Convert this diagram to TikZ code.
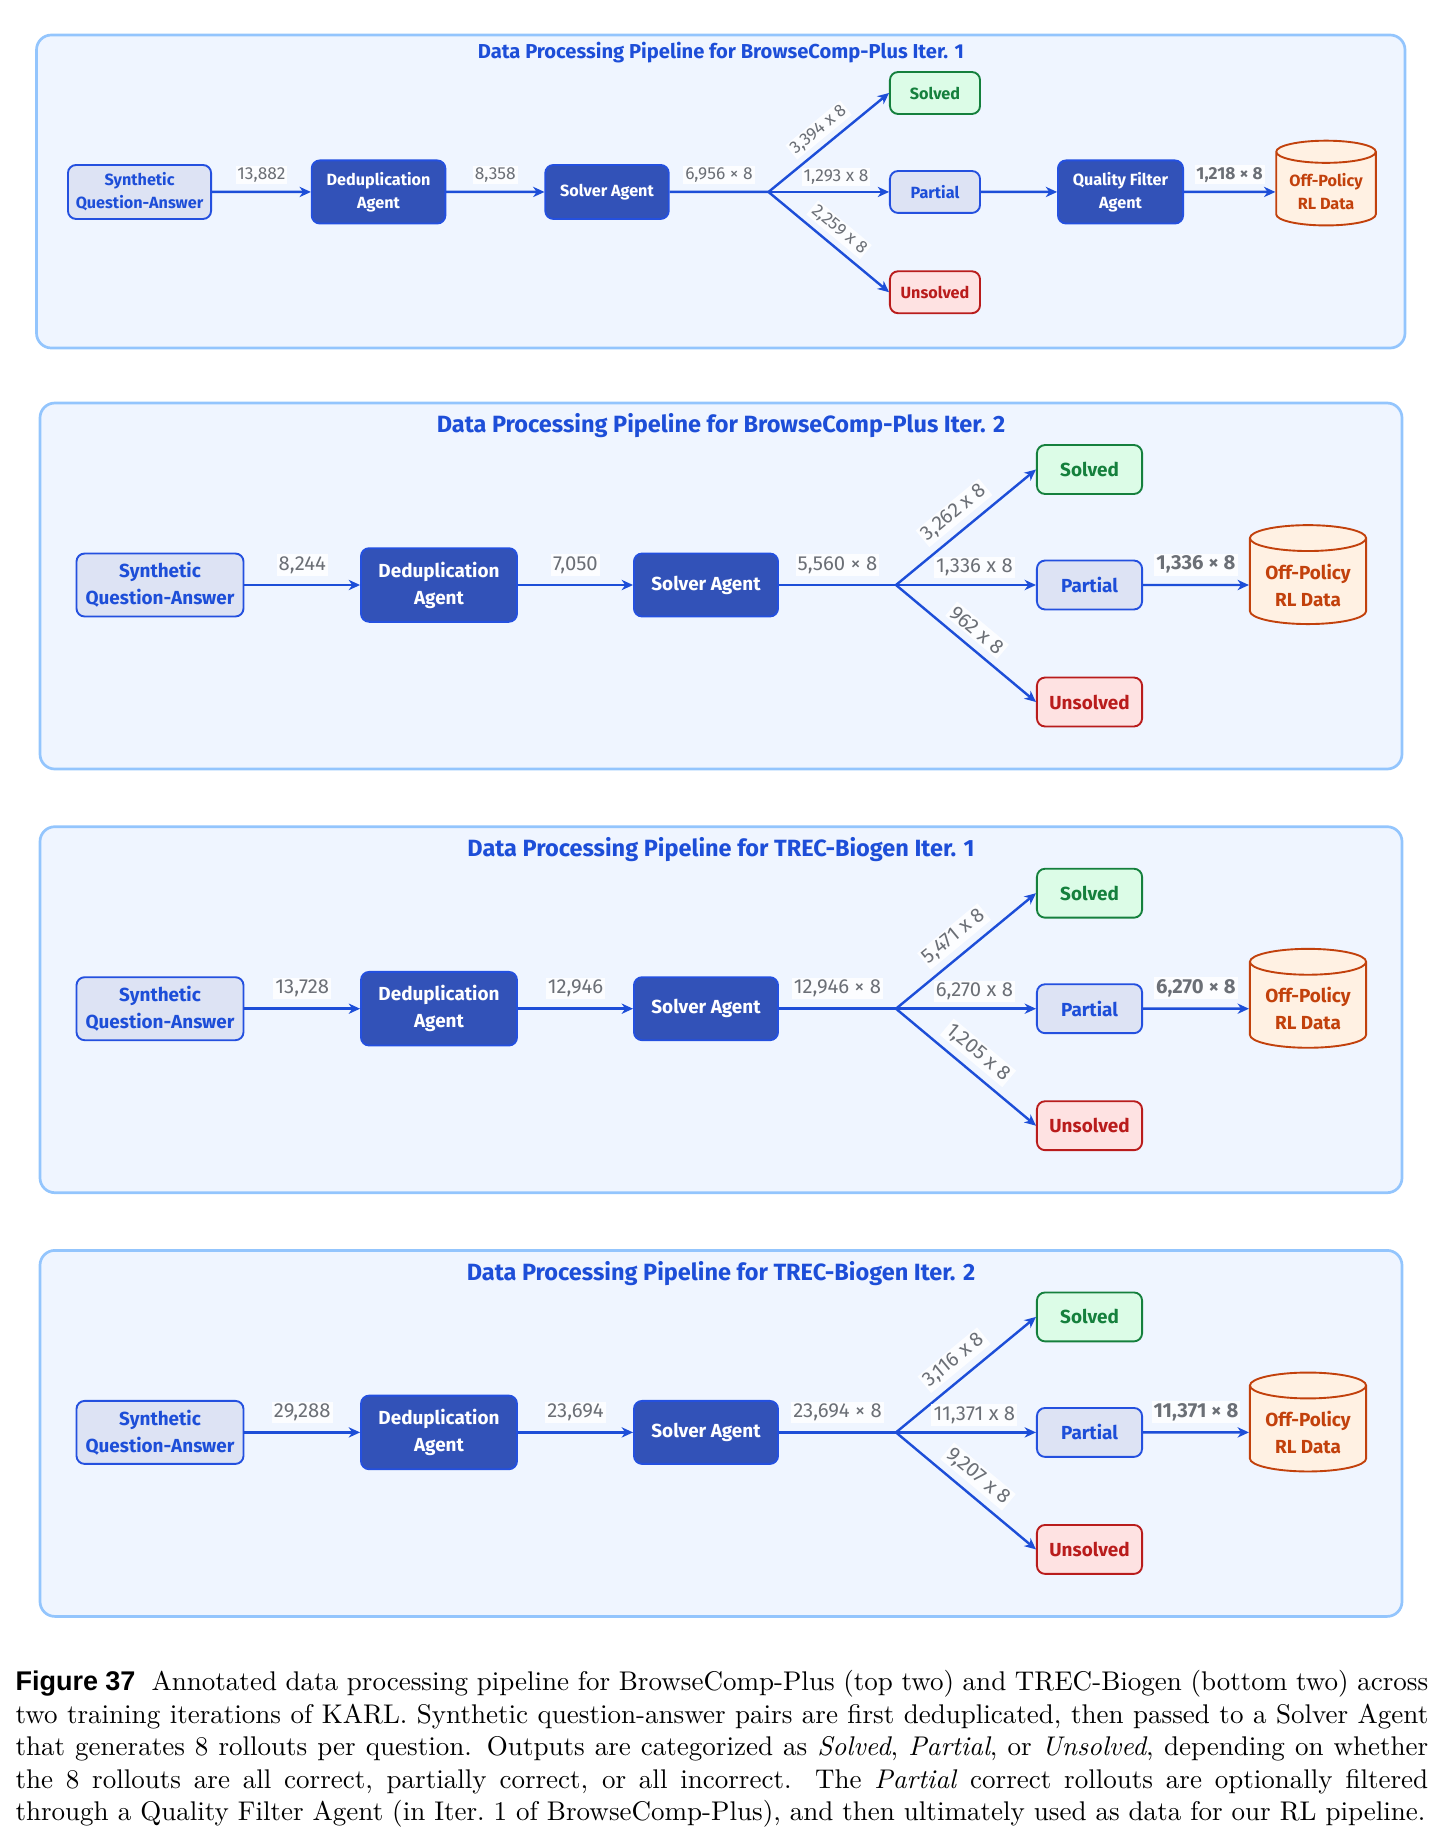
\documentclass[tikz,border=0pt]{standalone}
\usepackage{fontspec}
\newfontfamily\diagfont{Fira Sans}
\newfontfamily\figfont{Liberation Sans}
\usetikzlibrary{shapes.geometric,arrows.meta,positioning}

\definecolor{panelfill}{HTML}{EFF5FF}
\definecolor{panelline}{HTML}{93C5FD}
\definecolor{titleblue}{HTML}{1D4ED8}
\definecolor{flowblue}{HTML}{1D4ED8}
\definecolor{agentfill}{HTML}{3252B8}
\definecolor{edgeblue}{HTML}{2450DF}
\definecolor{paleblue}{HTML}{DDE3F4}
\definecolor{solvedfill}{HTML}{DCFCE7}
\definecolor{solvedline}{HTML}{15803D}
\definecolor{unsolvedfill}{HTML}{FEE2E2}
\definecolor{unsolvedline}{HTML}{B91C1C}
\definecolor{storefill}{HTML}{FFF1E3}
\definecolor{storeline}{HTML}{C2410C}
\definecolor{numgray}{HTML}{6B6F76}

\begin{document}
\begin{tikzpicture}[
    x=0.37pt, y=-0.37pt,
    boxfont/.style={font=\diagfont\bfseries\fontsize{7}{10}\selectfont},
    panel/.style={draw=panelline, fill=panelfill, line width=1pt, rounded corners=5.5pt},
    title/.style={text=titleblue, font=\diagfont\bfseries\fontsize{8.7}{10}\selectfont},
    input/.style={boxfont, draw=edgeblue, fill=paleblue, text=titleblue, rounded corners=3pt, line width=0.7pt, minimum width=61.8pt, minimum height=23.3pt, inner ysep=2.5pt, align=center},
    agent/.style={boxfont, draw=edgeblue, fill=agentfill, text=white, rounded corners=3pt, line width=0.7pt, minimum width=53.3pt, minimum height=23.3pt, inner ysep=5pt, align=center},
    outcome/.style={boxfont, rounded corners=3pt, line width=0.7pt, minimum width=38.9pt, minimum height=18.1pt},
    solvedbox/.style={outcome, draw=solvedline, fill=solvedfill, text=solvedline},
    partialbox/.style={outcome, draw=edgeblue, fill=paleblue, text=titleblue},
    unsolvedbox/.style={outcome, draw=unsolvedline, fill=unsolvedfill, text=unsolvedline},
    store/.style={boxfont, cylinder, shape border rotate=90, aspect=0.25, draw=storeline, fill=storefill, text=storeline, line width=0.7pt, minimum width=43pt, minimum height=36.6pt, align=center},
    num/.style={font=\diagfont\fontsize{7.5}{8}\selectfont, text=numgray, fill=white, fill opacity=0.85, text opacity=1, inner sep=0.8pt},
    numbold/.style={num, font=\diagfont\bfseries\fontsize{7.5}{8}\selectfont},
    flow/.style={draw=flowblue, line width=0.9pt, -{Stealth[length=4.2pt, width=3.8pt, inset=1.3pt]}}
]
\useasboundingbox (0,0) rectangle (1443,1846);

% BrowseComp-Plus, iteration 1 (with the quality filter)
\draw[panel] (36.5,35) rectangle (1405,348);
\begin{scope}[scale=0.857, transform shape]
\node[title] (ttl1) at (841.3,61.8) {Data Processing Pipeline for BrowseComp-Plus Iter. 1};
\node[input] (qa1) at (162.8,224) {Synthetic\\Question-Answer};
\node[agent, minimum width=57.7pt] (dedup1) at (441.7,224) {Deduplication\\Agent};
\node[agent] (solver1) at (708.3,224) {Solver Agent};
\coordinate (fork1) at (896.8,224);
\node[solvedbox] (solved1) at (1091,108.5) {Solved};
\node[partialbox] (partial1) at (1091,224) {Partial};
\node[unsolvedbox] (unsolved1) at (1091,341) {Unsolved};
\node[agent, minimum width=54pt] (filter1) at (1307.5,224) {Quality Filter\\Agent};
\node[store] (rl1) at (1547.3,224) {Off-Policy\\RL Data};

\draw[flow] (qa1) -- node[num, above=3pt] {13,882} (dedup1);
\draw[flow] (dedup1) -- node[num, above=3pt] {8,358} (solver1);
\draw[draw=flowblue, line width=0.9pt] (solver1) -- node[num, above=3pt] {6,956 × 8} (fork1);
\draw[flow] (fork1) -- node[num, sloped, above=2.5pt] {3,394 x 8} (solved1.west);
\draw[flow] (fork1) -- node[num, pos=0.56, above=2pt] {1,293 x 8} (partial1.west);
\draw[flow] (fork1) -- node[num, sloped, above=2.5pt] {2,259 x 8} (unsolved1.west);
\draw[flow] (partial1) -- (filter1);
\draw[flow] (filter1) -- node[numbold, above=3pt] {1,218 × 8} (rl1);
\end{scope}

% the other three runs share one layout
\foreach \pid/\oy/\ttl/\nQA/\nDD/\nSV/\nOK/\nPA/\nUN in {
    2/0/{BrowseComp-Plus Iter. 2}/{8,244}/{7,050}/{5,560}/{3,262}/{1,336}/{962},
    3/423.7/{TREC-Biogen Iter. 1}/{13,728}/{12,946}/{12,946}/{5,471}/{6,270}/{1,205},
    4/847.4/{TREC-Biogen Iter. 2}/{29,288}/{23,694}/{23,694}/{3,116}/{11,371}/{9,207}}
{
  \draw[panel] (40,403+\oy) rectangle (1402,769+\oy);
  \node[title] (ttl\pid) at (721,426+\oy) {Data Processing Pipeline for \ttl};
  \node[input] (qa\pid) at (160,585+\oy) {Synthetic\\Question-Answer};
  \node[agent, minimum width=57.7pt] (dedup\pid) at (439,585+\oy) {Deduplication\\Agent};
  \node[agent] (solver\pid) at (706,585+\oy) {Solver Agent};
  \coordinate (fork\pid) at (896,585+\oy);
  \node[solvedbox] (solved\pid) at (1089.5,469.5+\oy) {Solved};
  \node[partialbox] (partial\pid) at (1089.5,585+\oy) {Partial};
  \node[unsolvedbox] (unsolved\pid) at (1089.5,702+\oy) {Unsolved};
  \node[store] (rl\pid) at (1308,585+\oy) {Off-Policy\\RL Data};

  \draw[flow] (qa\pid) -- node[num, above=3pt] {\nQA} (dedup\pid);
  \draw[flow] (dedup\pid) -- node[num, above=3pt] {\nDD} (solver\pid);
  \draw[draw=flowblue, line width=0.9pt] (solver\pid) -- node[num, above=3pt] {\nSV\ × 8} (fork\pid);
  \draw[flow] (fork\pid) -- node[num, sloped, above=2.5pt] {\nOK\ x 8} (solved\pid.west);
  \draw[flow] (fork\pid) -- node[num, pos=0.56, above=2pt] {\nPA\ x 8} (partial\pid.west);
  \draw[flow] (fork\pid) -- node[num, sloped, above=2.5pt] {\nUN\ x 8} (unsolved\pid.west);
  \draw[flow] (partial\pid) -- node[numbold, above=3pt] {\nPA\ × 8} (rl\pid);
}

\node[anchor=north west, text width=522.7pt, align=justify, inner sep=0pt,
      font=\normalfont\fontsize{10}{12}\selectfont] (caption) at (15,1670)
  {{\figfont\bfseries Figure 37}\hspace{0.6em}Annotated data processing pipeline for BrowseComp-Plus (top two) and TREC-Biogen (bottom two) across two training iterations of KARL. Synthetic question-answer pairs are first deduplicated, then passed to a Solver Agent that generates 8 rollouts per question. Outputs are categorized as \textit{Solved}, \textit{Partial}, or \textit{Unsolved}, depending on whether the 8 rollouts are all correct, partially correct, or all incorrect. The \textit{Partial} correct rollouts are optionally filtered\linebreak through a Quality Filter Agent (in Iter.\ 1 of BrowseComp-Plus), and then ultimately used as data for our RL pipeline.\par};
\end{tikzpicture}
\end{document}
